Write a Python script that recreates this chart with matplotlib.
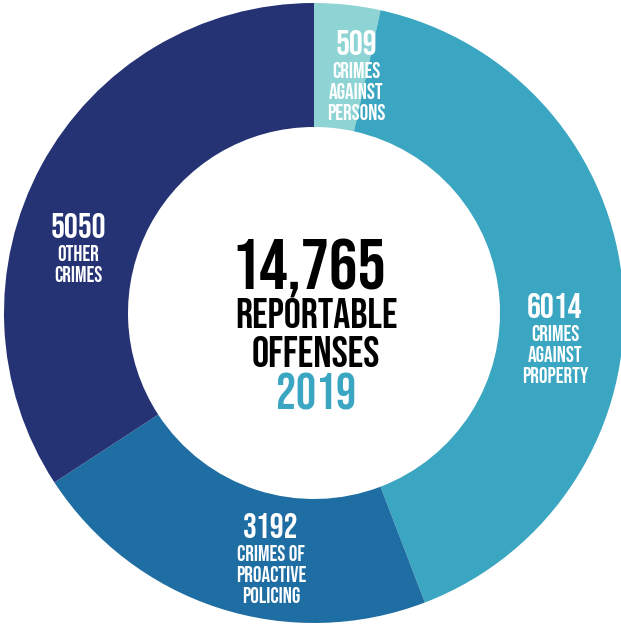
import matplotlib.pyplot as plt

# offense counts, clockwise from 12 o'clock
values = [509, 6014, 3192, 5050]
numbers = ["509", "6014", "3192", "5050"]
names = [["CRIMES", "AGAINST", "PERSONS"],
         ["CRIMES", "AGAINST", "PROPERTY"],
         ["CRIMES OF", "PROACTIVE", "POLICING"],
         ["OTHER", "CRIMES"]]
colors = ["#8fd4d4", "#3ba6c1", "#1f6ea3", "#253274"]
total_label = "14,765"
year = "2019"

plt.rcParams['font.family'] = ['Bebas Neue', 'DejaVu Sans']

W, H = 621, 624
cx, cy, R = 314, 313, 310

fig = plt.figure(figsize=(W / 100, H / 100), dpi=100)
ax = fig.add_axes([0, 0, 1, 1])
ax.pie(values, colors=colors, startangle=90, counterclock=False,
       radius=1, wedgeprops=dict(width=0.4, linewidth=0))
ax.set_xlim(-cx / R, (W - cx) / R)
ax.set_ylim(-(H - cy) / R, cy / R)
ax.set_aspect('equal')
ax.axis('off')


def px(x, y):
    return (x - cx) / R, (cy - y) / R


# slice labels: pixel centre x and baseline y of the number
label_pos = [(356, 55), (555, 318), (271, 538), (78, 238)]
for (x, y), num, lines in zip(label_pos, numbers, names):
    ax.text(*px(x, y), num, ha='center', va='baseline', color='white',
            fontsize=25)
    for i, line in enumerate(lines):
        ax.text(*px(x, y + 23 + 21 * i), line, ha='center', va='baseline',
                color='white', fontsize=15.5)

# center text
ax.text(*px(309, 290), total_label, ha='center', va='baseline', color='black',
        fontsize=51)
ax.text(*px(316, 328), "REPORTABLE", ha='center', va='baseline', color='black',
        fontsize=30.5)
ax.text(*px(316, 367), "OFFENSES", ha='center', va='baseline', color='black',
        fontsize=31)
ax.text(*px(316, 410), year, ha='center', va='baseline', color='#3ba6c1',
        fontsize=36)

fig.savefig("out.png", dpi=100)
